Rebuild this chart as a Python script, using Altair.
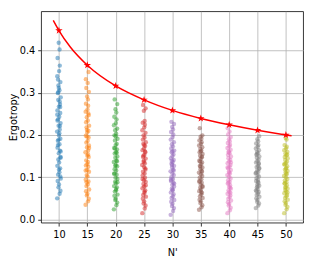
import altair as alt
import pandas as pd

# --- data ---
n_values = [10, 15, 20, 25, 30, 35, 40, 45, 50]
colors = ["#1f77b4", "#ff7f0e", "#2ca02c", "#d62728", "#9467bd",
          "#8c564b", "#e377c2", "#7f7f7f", "#bcbd22"]

s10 = [0.050, 0.061, 0.068, 0.076, 0.083, 0.091, 0.097, 0.106, 0.112, 0.121, 0.127, 0.135,
       0.142, 0.148, 0.157, 0.163, 0.170, 0.178, 0.186, 0.191, 0.199, 0.208, 0.213, 0.222,
       0.228, 0.237, 0.243, 0.252, 0.258, 0.267, 0.273, 0.283, 0.289, 0.299, 0.306, 0.317,
       0.325, 0.339, 0.351, 0.364, 0.382, 0.402, 0.418, 0.146, 0.176, 0.204, 0.234, 0.266,
       0.301, 0.118, 0.161, 0.189, 0.221, 0.248, 0.279, 0.311, 0.102, 0.331]
s15 = [0.035, 0.043, 0.049, 0.057, 0.061, 0.067, 0.071, 0.079, 0.083, 0.090, 0.094, 0.102,
       0.105, 0.113, 0.117, 0.125, 0.128, 0.136, 0.140, 0.148, 0.151, 0.159, 0.163, 0.171,
       0.175, 0.182, 0.186, 0.194, 0.198, 0.206, 0.210, 0.218, 0.222, 0.230, 0.234, 0.242,
       0.247, 0.255, 0.260, 0.269, 0.274, 0.284, 0.291, 0.302, 0.311, 0.323, 0.332, 0.349,
       0.088, 0.131, 0.169, 0.212, 0.251, 0.116, 0.154, 0.196]
s20 = [0.024, 0.034, 0.040, 0.046, 0.049, 0.056, 0.059, 0.066, 0.069, 0.076, 0.079, 0.086,
       0.089, 0.096, 0.099, 0.106, 0.109, 0.116, 0.119, 0.126, 0.129, 0.136, 0.139, 0.146,
       0.149, 0.156, 0.159, 0.166, 0.169, 0.176, 0.179, 0.187, 0.191, 0.199, 0.203, 0.211,
       0.215, 0.223, 0.228, 0.237, 0.243, 0.253, 0.261, 0.273, 0.284, 0.072, 0.108, 0.138,
       0.168, 0.197, 0.088, 0.127, 0.158]
s25 = [0.015, 0.026, 0.033, 0.038, 0.043, 0.049, 0.054, 0.058, 0.063, 0.069, 0.074, 0.078,
       0.084, 0.089, 0.093, 0.099, 0.104, 0.109, 0.113, 0.118, 0.124, 0.129, 0.133, 0.139,
       0.144, 0.148, 0.153, 0.159, 0.164, 0.168, 0.174, 0.179, 0.183, 0.189, 0.194, 0.199,
       0.205, 0.211, 0.218, 0.224, 0.229, 0.233, 0.257, 0.263, 0.271, 0.066, 0.096, 0.121,
       0.151, 0.176, 0.081, 0.136, 0.161]
s30 = [0.011, 0.020, 0.027, 0.032, 0.037, 0.042, 0.046, 0.051, 0.055, 0.060, 0.064, 0.069,
       0.073, 0.078, 0.082, 0.087, 0.091, 0.096, 0.100, 0.105, 0.109, 0.114, 0.118, 0.123,
       0.127, 0.132, 0.136, 0.141, 0.145, 0.150, 0.154, 0.159, 0.163, 0.168, 0.173, 0.178,
       0.183, 0.189, 0.195, 0.201, 0.207, 0.213, 0.219, 0.226, 0.231, 0.071, 0.094, 0.116,
       0.139, 0.161, 0.085, 0.129]
s35 = [0.023, 0.029, 0.034, 0.039, 0.043, 0.047, 0.051, 0.055, 0.059, 0.063, 0.067, 0.071,
       0.075, 0.079, 0.083, 0.087, 0.091, 0.095, 0.099, 0.103, 0.107, 0.111, 0.115, 0.119,
       0.123, 0.127, 0.131, 0.135, 0.139, 0.143, 0.147, 0.151, 0.155, 0.159, 0.163, 0.167,
       0.171, 0.175, 0.179, 0.183, 0.187, 0.191, 0.196, 0.199, 0.216, 0.065, 0.089, 0.113,
       0.137, 0.161, 0.077, 0.125, 0.149]
s40 = [0.015, 0.022, 0.028, 0.033, 0.037, 0.041, 0.045, 0.049, 0.053, 0.057, 0.061, 0.065,
       0.069, 0.073, 0.077, 0.081, 0.085, 0.089, 0.093, 0.097, 0.101, 0.105, 0.109, 0.113,
       0.117, 0.121, 0.125, 0.129, 0.133, 0.137, 0.141, 0.145, 0.149, 0.153, 0.157, 0.161,
       0.165, 0.169, 0.173, 0.177, 0.181, 0.185, 0.190, 0.195, 0.201, 0.208, 0.216, 0.063,
       0.087, 0.111, 0.135, 0.159, 0.075, 0.123]
s45 = [0.027, 0.033, 0.038, 0.042, 0.046, 0.050, 0.054, 0.058, 0.061, 0.065, 0.069, 0.072,
       0.076, 0.080, 0.083, 0.087, 0.091, 0.094, 0.098, 0.102, 0.105, 0.109, 0.113, 0.116,
       0.120, 0.124, 0.127, 0.131, 0.135, 0.138, 0.142, 0.146, 0.149, 0.153, 0.157, 0.160,
       0.164, 0.168, 0.172, 0.176, 0.180, 0.185, 0.190, 0.197, 0.067, 0.089, 0.111, 0.133,
       0.155, 0.078, 0.122]
s50 = [0.015, 0.024, 0.030, 0.035, 0.039, 0.043, 0.047, 0.051, 0.055, 0.058, 0.062, 0.066,
       0.070, 0.073, 0.077, 0.081, 0.085, 0.088, 0.092, 0.096, 0.100, 0.103, 0.107, 0.111,
       0.115, 0.118, 0.122, 0.126, 0.130, 0.133, 0.137, 0.141, 0.145, 0.148, 0.152, 0.156,
       0.160, 0.164, 0.168, 0.172, 0.176, 0.189, 0.193, 0.064, 0.086, 0.109, 0.131, 0.154,
       0.075, 0.120]
strips = [s10, s15, s20, s25, s30, s35, s40, s45, s50]

# horizontal spread of the points around each N' (in N' units)
jitter = [-0.31, 0.12, 0.27, -0.08, 0.02, -0.22, 0.33, -0.15, 0.08, 0.21, -0.28, 0.04,
          -0.11, 0.30, -0.03, 0.17, -0.25, 0.10, -0.19, 0.25, 0.00, -0.33, 0.14, -0.06,
          0.29, -0.17, 0.06, 0.23, -0.27, -0.01, 0.19, -0.13, 0.32, -0.21, 0.09, -0.09,
          0.26, -0.30, 0.03, 0.15, -0.24, 0.11, -0.04, 0.28, -0.18, 0.07, -0.26, 0.22,
          -0.12, 0.01, 0.31, -0.07, 0.18, -0.29, 0.13, -0.02, 0.24, -0.16]

# upper bound curve and its markers
curve_n = [9, 10, 12, 15, 20, 25, 30, 35, 40, 45, 50, 51]
curve_e = [0.471, 0.447, 0.408, 0.365, 0.316, 0.283, 0.258, 0.239, 0.224, 0.211, 0.200, 0.198]
star_e = [0.447, 0.365, 0.316, 0.283, 0.258, 0.239, 0.224, 0.211, 0.200]

STAR = ("M0,-1L0.223,-0.307L0.951,-0.309L0.361,0.117L0.588,0.809L0,0.38"
        "L-0.588,0.809L-0.361,0.117L-0.951,-0.309L-0.223,-0.307Z")

rows = []
for n, vals in zip(n_values, strips):
    for i, v in enumerate(vals):
        rows.append({"n": n + jitter[i % len(jitter)], "group": str(n), "e": v, "kind": "pt"})
for n, e in zip(curve_n, curve_e):
    rows.append({"n": n, "group": "curve", "e": e, "kind": "curve"})
for n, e in zip(n_values, star_e):
    rows.append({"n": n, "group": "star", "e": e, "kind": "star"})
df = pd.DataFrame(rows)

xs = alt.Scale(domain=[6.86, 53.04], nice=False, zero=False)
ys = alt.Scale(domain=[-0.0075, 0.4925], nice=False, zero=False)

xax = alt.Axis(values=n_values, format="d", title="N'", grid=True, tickSize=3.5,
               labelPadding=3.5, titlePadding=9, orient="bottom")
yax = alt.Axis(values=[0.0, 0.1, 0.2, 0.3, 0.4], format=".1f", title="Ergotropy",
               grid=True, tickSize=3.5, labelPadding=3, titlePadding=1, orient="left")

X = alt.X("n:Q", scale=xs, axis=xax)
Y = alt.Y("e:Q", scale=ys, axis=yax)

base = alt.Chart(df)

points = base.transform_filter(alt.datum.kind == "pt").mark_circle(size=20, opacity=0.5).encode(
    x=X, y=Y,
    color=alt.Color("group:N", scale=alt.Scale(domain=[str(n) for n in n_values], range=colors),
                    legend=None),
)

line = base.transform_filter(alt.datum.kind == "curve").mark_line(
    color="#ff0000", strokeWidth=1.5, interpolate="monotone").encode(x=X, y=Y)

star_marks = base.transform_filter(alt.datum.kind == "star").mark_point(
    shape=STAR, filled=True, color="#ff0000", size=64, opacity=1).encode(x=X, y=Y)

chart = alt.layer(points, line, star_marks).properties(
    width=269, height=217,
    autosize=alt.AutoSizeParams(type="none"),
    padding={"left": 34, "top": 0, "right": 6, "bottom": 37},
).configure_view(
    stroke="#000000", strokeWidth=0.8
).configure_axis(
    domain=False, gridColor="#b0b0b0", gridWidth=0.8, tickColor="#000000", tickWidth=0.8,
    labelFont="DejaVu Sans", labelFontSize=10, labelColor="#000000",
    titleFont="DejaVu Sans", titleFontSize=10, titleFontWeight="normal", titleColor="#000000",
)

chart.save("out.html", embed_options={"renderer": "svg", "actions": False})
